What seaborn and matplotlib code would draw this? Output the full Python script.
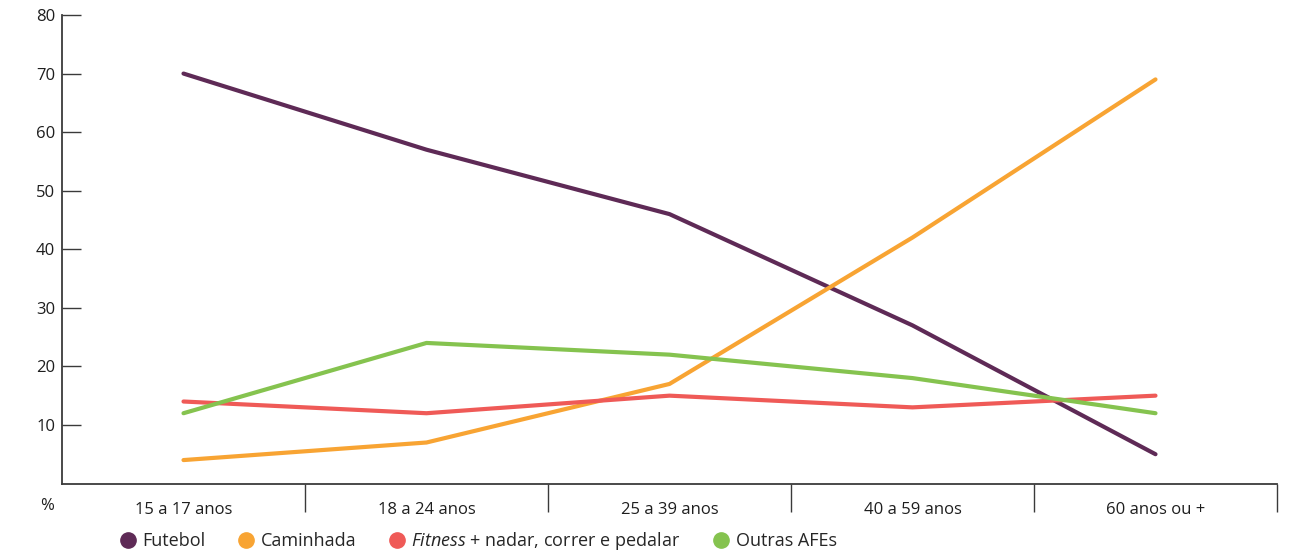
import matplotlib
matplotlib.use("Agg")
import matplotlib.pyplot as plt
import pandas as pd
import seaborn as sns
from matplotlib.lines import Line2D

sns.set_theme(style="white")
plt.rcParams['font.family'] = ['Open Sans', 'DejaVu Sans']
plt.rcParams['mathtext.fontset'] = 'custom'
plt.rcParams['mathtext.it'] = 'Open Sans:italic'
plt.rcParams['mathtext.rm'] = 'Open Sans'

# data
faixas = ["15 a 17 anos", "18 a 24 anos", "25 a 39 anos", "40 a 59 anos", "60 anos ou +"]
futebol = [70, 57, 46, 27, 5]
caminhada = [4, 7, 17, 42, 69]
fitness = [14, 12, 15, 13, 15]
outras = [12, 24, 22, 18, 12]

series = ["Futebol", "Caminhada", "Fitness", "Outras AFEs"]
labels = ["Futebol", "Caminhada", r"$\it{Fitness}$ + nadar, correr e pedalar", "Outras AFEs"]
colors = ["#5e2a56", "#f8a433", "#ef5a57", "#85c34f"]

df = pd.DataFrame({
    "x": list(range(len(faixas))) * 4,
    "valor": futebol + caminhada + fitness + outras,
    "serie": sum([[s] * len(faixas) for s in series], []),
})

fig = plt.figure(figsize=(12.89, 5.53), dpi=100)
ax = fig.add_axes([62 / 1289, 1 - 483.5 / 553, (1277 - 62) / 1289, (483.5 - 15) / 553])

sns.lineplot(data=df, x="x", y="valor", hue="serie", hue_order=series,
             palette=colors, linewidth=3.0, legend=False, ax=ax)

ax.set_xlim(-0.5, 4.5)
ax.set_ylim(0, 80)
ax.set_yticks(range(10, 81, 10))
ax.set_xticks(range(len(faixas)))
ax.set_xticklabels(faixas)
ax.set_xticks([0.5, 1.5, 2.5, 3.5, 4.5], minor=True)
ax.set_xlabel("")
ax.set_ylabel("")

for side in ["top", "right"]:
    ax.spines[side].set_visible(False)
for side in ["left", "bottom"]:
    ax.spines[side].set_color("#3a3a3a")
    ax.spines[side].set_linewidth(1.3)

ax.tick_params(axis="y", direction="in", length=14, width=1, color="#3a3a3a",
               labelsize=12, labelcolor="#1e1e1e", pad=5, left=True)
ax.tick_params(axis="x", which="major", length=0, labelsize=12,
               labelcolor="#1e1e1e", pad=13)
ax.tick_params(axis="x", which="minor", direction="out", length=20, width=1,
               color="#3a3a3a", bottom=True)

fig.text(47 / 1289, 1 - 506 / 553, "%", ha="center", va="center",
         fontsize=12, color="#1e1e1e")

handles = [Line2D([], [], linestyle="none", marker="o", markersize=11,
                  markerfacecolor=c, markeredgecolor=c) for c in colors]
fig.legend(handles, labels, loc="center left",
           bbox_to_anchor=(119 / 1289, 1 - 541 / 553), ncol=4, frameon=False,
           fontsize=13, handletextpad=0.3, columnspacing=1.75,
           handlelength=1.0, borderaxespad=0, borderpad=0)

fig.savefig("out.png", dpi=100)
plt.close(fig)
